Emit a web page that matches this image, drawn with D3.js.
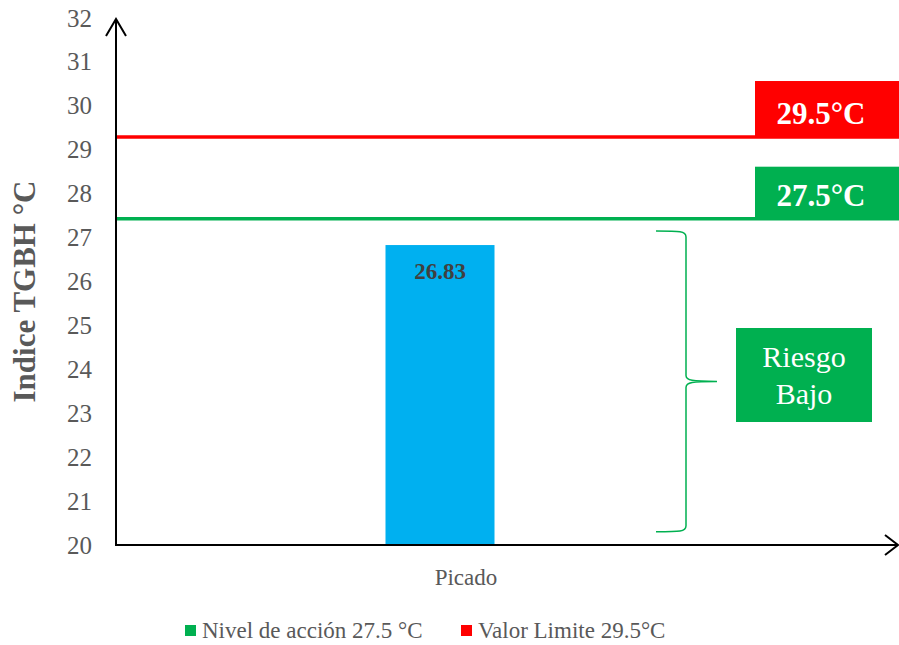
<!DOCTYPE html>
<html>
<head>
<meta charset="utf-8">
<script src="https://cdn.jsdelivr.net/npm/d3@7"></script>
</head>
<body style="margin:0;background:#fff">
<svg id="chart" width="899" height="645" style="display:block"></svg>
<script>
// ---- data ----
const categories = ["Picado"];
const barValues = [26.83];
const barLabels = ["26.83"];
const yTicks = [20, 21, 22, 23, 24, 25, 26, 27, 28, 29, 30, 31, 32];
const limitNames = ["Nivel de acción 27.5 °C", "Valor Limite 29.5°C"];
const limitLevels = [27.43, 29.29];          // drawn positions
const limitTags = ["27.5°C", "29.5°C"];
const limitColors = ["#00B050", "#FF0000"];
const riskRange = [20.3, 27.15];
const riskLabel = ["Riesgo", "Bajo"];

const FONT = "Liberation Serif";

// ---- layout ----
const svg = d3.select("#chart");
const x0 = 116, xEnd = 898, yTop = 18, yBot = 545;

const y = d3.scaleLinear().domain([20, 32]).range([yBot, yTop]);
const x = d3.scaleBand().domain(categories).range([x0, 764]).paddingInner(0.712).paddingOuter(0.712);

function txt(sel) { return sel.append("text").style("font-family", FONT); }

// y title first (regular-weight texts follow)
txt(svg)
  .attr("transform", `translate(35,${(yTop + yBot) / 2 + 10}) rotate(-90)`)
  .attr("text-anchor", "middle")
  .attr("font-size", 31)
  .attr("font-weight", "bold")
  .attr("fill", "#595959")
  .text("Indice TGBH °C");

// axes labels
const yAxis = d3.axisLeft(y).tickValues(yTicks).tickSize(0).tickPadding(24).tickFormat(d3.format("d"));
const gy = svg.append("g").attr("transform", `translate(${x0},0)`).call(yAxis);
gy.attr("font-family", FONT).attr("font-size", 25);
gy.select(".domain").remove();
gy.selectAll("text").attr("fill", "#595959").style("font-family", FONT).style("font-weight", "normal");

// limit lines
limitLevels.forEach((v, i) => {
  svg.append("line")
    .attr("x1", x0).attr("x2", 899)
    .attr("y1", y(v)).attr("y2", y(v))
    .attr("stroke", limitColors[i]).attr("stroke-width", 3.5);
});

// bars
svg.selectAll("rect.bar").data(barValues).join("rect")
  .attr("class", "bar")
  .attr("x", (d, i) => x(categories[i]))
  .attr("width", x.bandwidth())
  .attr("y", d => y(d))
  .attr("height", d => yBot - y(d))
  .attr("fill", "#00B0F0");

barValues.forEach((d, i) => {
  txt(svg)
    .attr("x", x(categories[i]) + x.bandwidth() / 2)
    .attr("y", y(d) + 34)
    .attr("text-anchor", "middle")
    .attr("font-weight", "bold")
    .attr("font-size", 23)
    .attr("fill", "#404040")
    .text(barLabels[i]);
});

svg.append("line").attr("x1", x0).attr("x2", x0).attr("y1", yBot).attr("y2", yTop + 1)
  .attr("stroke", "#000").attr("stroke-width", 2);
svg.append("path").attr("d", `M${x0 - 10},${yTop + 18}L${x0},${yTop + 1}L${x0 + 10},${yTop + 18}`)
  .attr("fill", "none").attr("stroke", "#000").attr("stroke-width", 2);
svg.append("line").attr("x1", x0 - 1).attr("x2", xEnd).attr("y1", yBot).attr("y2", yBot)
  .attr("stroke", "#000").attr("stroke-width", 2);
svg.append("path").attr("d", `M${xEnd - 13},${yBot - 10}L${xEnd},${yBot}L${xEnd - 13},${yBot + 10}`)
  .attr("fill", "none").attr("stroke", "#000").attr("stroke-width", 2);

// category label
txt(svg)
  .attr("x", x(categories[0]) + x.bandwidth() / 2 + 26)
  .attr("y", 585)
  .attr("text-anchor", "middle")
  .attr("font-size", 23)
  .attr("fill", "#595959")
  .text(categories[0]);

// limit tags
limitLevels.forEach((v, i) => {
  const yb = y(v) + 1;
  const h = i === 1 ? 57 : 53;
  svg.append("rect").attr("x", 755).attr("y", yb - h).attr("width", 144).attr("height", h)
    .attr("fill", limitColors[i]);
  txt(svg).attr("x", 821).attr("y", yb - 14)
    .attr("text-anchor", "middle").attr("font-size", 31).attr("font-weight", "bold")
    .attr("fill", "#fff").text(limitTags[i]);
});

// brace
const bt = y(riskRange[1]), bb = y(riskRange[0]), bm = (bt + bb) / 2;
const bx = 686, bl = 656, br = 717;
svg.append("path")
  .attr("d", `M${bl},${bt} C${bx - 6},${bt} ${bx},${bt} ${bx},${bt + 6}
              L${bx},${bm - 6} C${bx},${bm - 1} ${bx + 6},${bm} ${br},${bm}
              C${bx + 6},${bm} ${bx},${bm + 1} ${bx},${bm + 6}
              L${bx},${bb - 6} C${bx},${bb} ${bx - 6},${bb} ${bl},${bb}`)
  .attr("fill", "none").attr("stroke", "#00B050").attr("stroke-width", 1.5);

svg.append("rect").attr("x", 736).attr("y", 328).attr("width", 136).attr("height", 94).attr("fill", "#00B050");
txt(svg).attr("x", 804).attr("y", 367).attr("text-anchor", "middle")
  .attr("font-size", 30).attr("fill", "#fff").text(riskLabel[0]);
txt(svg).attr("x", 804).attr("y", 404).attr("text-anchor", "middle")
  .attr("font-size", 30).attr("fill", "#fff").text(riskLabel[1]);

// legend
const legX = [185, 461];
limitNames.forEach((n, i) => {
  svg.append("rect").attr("x", legX[i]).attr("y", 625).attr("width", 11).attr("height", 11)
    .attr("fill", limitColors[i]);
  txt(svg).attr("x", legX[i] + 17).attr("y", 638)
    .attr("font-size", 23).attr("fill", "#595959").text(n);
});
</script>
</body>
</html>
